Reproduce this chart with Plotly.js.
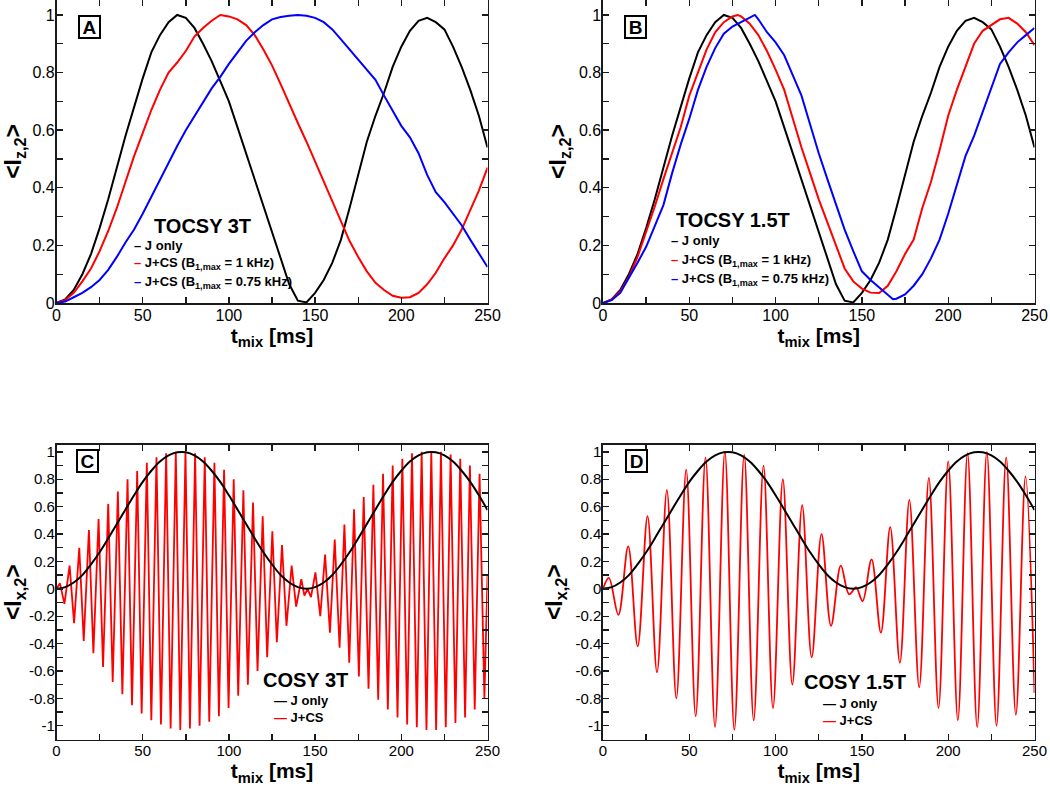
<!DOCTYPE html>
<html><head><meta charset="utf-8">
<script src="https://cdn.plot.ly/plotly-3.0.1.min.js"></script>
<style>html,body{margin:0;padding:0;background:#fff}#chart{width:1050px;height:788px}</style>
</head><body><div id="chart"></div>
<script>
// ---------- DATA ----------
const tocsyT = [0,5,10,15,20,25,30,35,40,45,50,55,60,65,70,75,80,85,90,95,100,105,110,115,120,125,130,135,140,145,150,155,160,165,170,175,180,185,190,195,200,205,210,215,220,225,230,235,240,245,250];
const tocsyJOnly = [0,0.012,0.045,0.10,0.17,0.26,0.36,0.47,0.58,0.68,0.78,0.87,0.93,0.975,1.0,0.99,0.955,0.90,0.84,0.77,0.70,0.61,0.52,0.43,0.34,0.25,0.16,0.065,0.008,0.002,0.035,0.08,0.14,0.22,0.33,0.45,0.56,0.65,0.73,0.82,0.89,0.945,0.98,0.99,0.975,0.95,0.89,0.82,0.74,0.65,0.54];
const tocsy3TRed = [0,0.01,0.035,0.075,0.12,0.18,0.25,0.33,0.42,0.51,0.59,0.67,0.74,0.80,0.835,0.875,0.925,0.955,0.98,1.0,0.995,0.985,0.965,0.93,0.88,0.825,0.76,0.69,0.625,0.56,0.49,0.42,0.35,0.28,0.215,0.16,0.11,0.07,0.045,0.025,0.018,0.02,0.035,0.065,0.105,0.155,0.20,0.255,0.32,0.39,0.47];
const tocsy3TBlue = [0,0.005,0.02,0.035,0.055,0.08,0.115,0.16,0.21,0.255,0.31,0.37,0.43,0.49,0.545,0.60,0.65,0.70,0.745,0.785,0.83,0.87,0.91,0.94,0.965,0.985,0.993,0.997,1.0,0.997,0.99,0.975,0.95,0.915,0.88,0.845,0.81,0.775,0.72,0.665,0.615,0.575,0.52,0.445,0.385,0.35,0.31,0.27,0.22,0.17,0.125];

const tocsy15TRedT = [0,5,10,15,20,25,30,35,40,45,50,55,60,65,70,75,78,80,85,90,95,100,105,110,115,120,125,130,135,140,145,150,155,160,165,170,175,180,185,190,195,200,205,210,215,220,225,230,235,240,245,250];
const tocsy15TRed = [0,0.012,0.04,0.09,0.16,0.245,0.335,0.43,0.52,0.61,0.72,0.80,0.88,0.94,0.975,0.995,1.0,0.995,0.97,0.93,0.875,0.81,0.74,0.64,0.54,0.45,0.36,0.28,0.20,0.12,0.075,0.05,0.036,0.035,0.06,0.11,0.17,0.22,0.33,0.42,0.53,0.65,0.74,0.82,0.90,0.945,0.965,0.985,0.99,0.97,0.94,0.895];
const tocsy15TBlueT = [0,5,10,15,20,25,30,35,40,45,50,55,60,65,70,75,80,85,88,90,95,100,105,110,115,120,125,130,135,140,145,150,155,160,165,168,170,175,180,185,190,195,200,205,210,215,220,225,230,235,240,245,250];
const tocsy15TBlue = [0,0.01,0.035,0.085,0.14,0.195,0.265,0.34,0.45,0.55,0.64,0.74,0.82,0.885,0.935,0.96,0.975,0.99,1.0,0.985,0.94,0.905,0.86,0.79,0.72,0.62,0.52,0.43,0.34,0.255,0.18,0.11,0.08,0.055,0.03,0.013,0.015,0.03,0.06,0.10,0.155,0.22,0.31,0.41,0.51,0.58,0.665,0.75,0.83,0.87,0.905,0.93,0.955];

const cosyT = [0,5,10,15,20,25,30,35,40,45,50,55,60,65,70,75,80,85,90,95,100,105,110,115,120,125,130,135,140,145,150,155,160,165,170,175,180,185,190,195,200,205,210,215,220,225,230,235,240,245,250];
const cosyJOnly = [0,0.012,0.046,0.10,0.178,0.267,0.368,0.474,0.579,0.683,0.781,0.862,0.929,0.974,0.997,0.997,0.974,0.929,0.862,0.781,0.683,0.579,0.474,0.368,0.267,0.178,0.101,0.046,0.012,0.0,0.012,0.046,0.101,0.178,0.267,0.368,0.474,0.579,0.683,0.781,0.862,0.929,0.974,0.997,0.997,0.974,0.929,0.862,0.781,0.683,0.575];

const cosy3TT = [0,2.0,4.6,7.6,10.2,13.2,15.8,18.8,21.4,24.4,27.0,30.0,32.6,35.6,38.2,41.2,43.8,46.8,49.4,52.4,55.0,58.0,60.6,63.6,66.2,69.2,71.8,74.8,77.4,80.4,83.0,86.0,88.6,91.6,94.2,97.2,99.8,102.8,105.4,108.4,111.0,114.0,116.6,119.6,122.2,125.2,127.8,130.8,133.4,136.4,139.0,142.0,143.8,145.6,147.6,150.2,153.0,155.8,158.6,161.4,164.2,167.0,169.8,172.6,175.4,178.2,181.0,183.8,186.6,189.4,192.2,195.0,197.8,200.6,203.4,206.2,209.0,211.8,214.6,217.4,220.2,223.0,225.8,228.6,231.4,234.2,237.0,239.8,242.6,245.4,248.2,250];
const cosy3TRed = [0,0.04,-0.11,0.17,-0.25,0.30,-0.38,0.43,-0.47,0.51,-0.57,0.62,-0.68,0.71,-0.77,0.80,-0.85,0.86,-0.91,0.92,-0.96,0.96,-0.99,0.99,-1.02,1.0,-1.03,1.0,-1.02,0.99,-1.0,0.96,-0.97,0.92,-0.93,0.87,-0.87,0.80,-0.78,0.72,-0.70,0.63,-0.60,0.53,-0.50,0.42,-0.39,0.32,-0.27,0.17,-0.13,0.07,-0.05,0.0,-0.06,0.12,-0.20,0.25,-0.32,0.36,-0.43,0.47,-0.54,0.58,-0.64,0.67,-0.73,0.76,-0.81,0.84,-0.88,0.90,-0.94,0.95,-0.99,0.99,-1.01,1.0,-1.03,1.0,-1.03,1.0,-1.01,0.98,-0.98,0.95,-0.94,0.90,-0.88,0.84,-0.80,0.10];

const cosy15TT = [0,3.4,8.9,14.6,20.1,25.8,31.3,37.0,42.5,48.2,53.7,59.4,64.9,70.6,76.1,81.8,87.3,93.0,98.5,104.2,109.7,115.4,120.9,126.6,132.1,137.8,142.6,146.6,150.4,155.6,161.0,166.4,172.0,177.5,183.2,188.8,194.4,200.0,205.6,211.2,216.8,222.4,228.0,233.6,239.2,244.8,250];
const cosy15TRed = [0,0.08,-0.19,0.31,-0.42,0.53,-0.61,0.72,-0.80,0.87,-0.93,0.96,-1.01,1.0,-1.03,0.98,-0.96,0.90,-0.87,0.80,-0.70,0.61,-0.50,0.40,-0.27,0.17,-0.04,0.01,-0.09,0.215,-0.32,0.45,-0.54,0.65,-0.72,0.81,-0.87,0.93,-0.96,0.99,-1.01,1.0,-1.0,0.96,-0.92,0.82,-0.76];

const xTickVals = [0,50,100,150,200,250];
const tocsyYTickVals = [0,0.2,0.4,0.6,0.8,1];
const tocsyYTickText = ['0','0.2','0.4','0.6','0.8','1'];
const cosyYTickVals = [-1,-0.8,-0.6,-0.4,-0.2,0,0.2,0.4,0.6,0.8,1];
const cosyYTickText = ['-1','-0.8','-0.6','-0.4','-0.2','0','0.2','0.4','0.6','0.8','1'];

// ---------- STYLE / LAYOUT ----------
const FONT = 'Liberation Sans, Arial, sans-serif';
const BLACK = '#000000', RED = '#ff0000', BLUE = '#0000ff';

function line(x, y, color, xa, ya, name, shape, w){
  return {x:x, y:y, type:'scatter', mode:'lines', name:name, xaxis:xa, yaxis:ya,
          line:{color:color, width:w||2, shape:shape||'linear'}, hoverinfo:'skip'};
}

const data = [
  line(tocsyT, tocsyJOnly, BLACK, 'x','y','J only'),
  line(tocsyT, tocsy3TRed, RED, 'x','y','J+CS (B1,max = 1 kHz)'),
  line(tocsyT, tocsy3TBlue, BLUE, 'x','y','J+CS (B1,max = 0.75 kHz)'),
  line(tocsyT, tocsyJOnly, BLACK, 'x2','y2','J only'),
  line(tocsy15TRedT, tocsy15TRed, RED, 'x2','y2','J+CS (B1,max = 1 kHz)'),
  line(tocsy15TBlueT, tocsy15TBlue, BLUE, 'x2','y2','J+CS (B1,max = 0.75 kHz)'),
  line(cosy3TT, cosy3TRed, RED, 'x3','y3','J+CS','linear',1.8),
  line(cosyT, cosyJOnly, BLACK, 'x3','y3','J only','spline'),
  line(cosy15TT, cosy15TRed, RED, 'x4','y4','J+CS','spline',1.8),
  line(cosyT, cosyJOnly, BLACK, 'x4','y4','J only','spline')
];

function axBase(fs){
  return {showline:true, linecolor:'#1a1a1a', linewidth:1.6, mirror:'ticks',
    ticks:'inside', ticklen:6, tickwidth:1.4, tickcolor:'#1a1a1a',
    showgrid:false, zeroline:false, fixedrange:true, ticklabelstandoff:-3,
    tickfont:{family:FONT, size:fs, color:'#000'}};
}
function xAxis(domain, anchor, fs){
  return Object.assign(axBase(fs), {domain:domain, anchor:anchor, range:[0,250],
    tickmode:'array', tickvals:xTickVals,
    minor:{tickmode:'linear', tick0:0, dtick:25, ticks:'inside', ticklen:6, tickwidth:1.4, tickcolor:'#1a1a1a'},
    title:{text:'<b>t<sub>mix</sub> [ms]</b>', standoff:4, font:{family:FONT, size:21, color:'#000'}}});
}
function yAxis(domain, anchor, range, vals, text, label, fs){
  return Object.assign(axBase(fs), {domain:domain, anchor:anchor, range:range,
    tickmode:'array', tickvals:vals, ticktext:text,
    minor:{tickmode:'linear', tick0:0, dtick:0.1, ticks:'inside', ticklen:6, tickwidth:1.4, tickcolor:'#1a1a1a'},
    title:{text:label, standoff:6, font:{family:FONT, size:23, color:'#000'}}});
}

const LX = [56.5/1050, 487.5/1050], RX = [603/1050, 1034.5/1050];
const TY = [1-303/788, 1], BY = [1-739.5/788, 1-445/788];
const IZ = '<b>&lt;I<sub>z,2</sub>&gt;</b>', IX = '<b>&lt;I<sub>x,2</sub>&gt;</b>';

function px(x){return x/1050;} function py(y){return 1-y/788;}
function letter(t, x, y){
  return {xref:'paper', yref:'paper', x:px(x), y:py(y), xanchor:'center', yanchor:'middle',
    text:'<b>'+t+'</b>', showarrow:false, font:{family:FONT, size:19, color:'#000'},
    bordercolor:'#000', borderwidth:2, borderpad:1, width:17, height:18, bgcolor:'#fff'};
}
function ltitle(t, x, y){
  return {xref:'paper', yref:'paper', x:px(x), y:py(y), xanchor:'left', yanchor:'middle',
    text:'<b>'+t+'</b>', showarrow:false, font:{family:FONT, size:20, color:'#000'}};
}
function lrow(dash, color, t, x, y){
  return {xref:'paper', yref:'paper', x:px(x), y:py(y), xanchor:'left', yanchor:'middle',
    text:'<b><span style="color:'+color+'">'+dash+'</span> '+t+'</b>', showarrow:false,
    font:{family:FONT, size:13, color:'#000'}};
}
const EN = '\u2013', EM = '\u2014';
const annotations = [
  letter('A', 89.5, 27), letter('B', 635.5, 27.5), letter('C', 87.5, 461), letter('D', 636.5, 461),
  ltitle('TOCSY 3T', 152, 226),
  lrow(EN, BLACK, 'J only', 132, 245.7),
  lrow(EN, RED, 'J+CS (B<sub>1,max</sub> = 1 kHz)', 132, 263),
  lrow(EN, BLUE, 'J+CS (B<sub>1,max</sub> = 0.75 kHz)', 132, 282.7),
  ltitle('TOCSY 1.5T', 674, 220),
  lrow(EN, BLACK, 'J only', 669, 240.7),
  lrow(EN, RED, 'J+CS (B<sub>1,max</sub> = 1 kHz)', 669, 260),
  lrow(EN, BLUE, 'J+CS (B<sub>1,max</sub> = 0.75 kHz)', 669, 280),
  ltitle('COSY 3T', 261, 680),
  lrow(EM, BLACK, 'J only', 272, 700),
  lrow(EM, RED, 'J+CS', 272, 717),
  ltitle('COSY 1.5T', 802, 682),
  lrow(EM, BLACK, 'J only', 821, 703),
  lrow(EM, RED, 'J+CS', 821, 720)
];

const layout = {
  width:1050, height:788, margin:{l:0, r:0, t:0, b:0},
  paper_bgcolor:'#ffffff', plot_bgcolor:'#ffffff', showlegend:false,
  font:{family:FONT, color:'#000'},
  xaxis: xAxis(LX, 'y', 16),  yaxis: yAxis(TY, 'x', [0,1.052], tocsyYTickVals, tocsyYTickText, IZ, 16),
  xaxis2: xAxis(RX, 'y2', 16), yaxis2: yAxis(TY, 'x2', [0,1.052], tocsyYTickVals, tocsyYTickText, IZ, 16),
  xaxis3: xAxis(LX, 'y3', 15), yaxis3: yAxis(BY, 'x3', [-1.1,1.05], cosyYTickVals, cosyYTickText, IX, 15),
  xaxis4: xAxis(RX, 'y4', 15), yaxis4: yAxis(BY, 'x4', [-1.1,1.05], cosyYTickVals, cosyYTickText, IX, 15),
  annotations: annotations
};

Plotly.newPlot('chart', data, layout, {staticPlot:true, displayModeBar:false});
</script></body></html>
